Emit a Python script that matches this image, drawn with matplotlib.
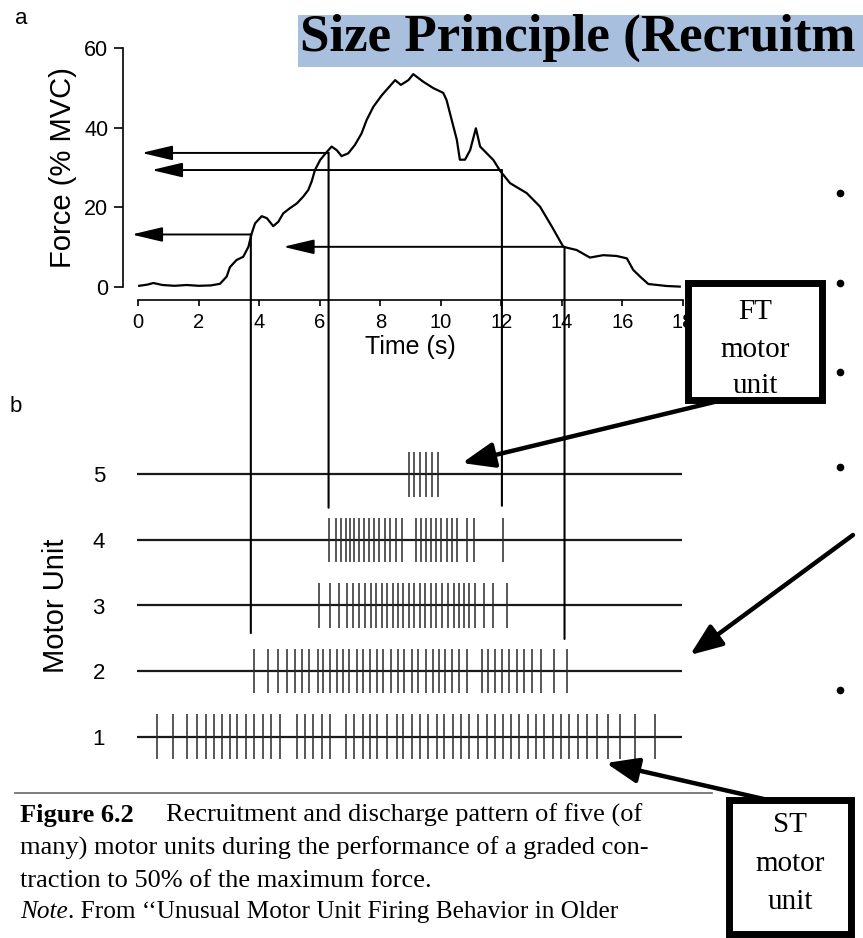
import matplotlib
matplotlib.use("Agg")
import matplotlib.pyplot as plt
from matplotlib.patches import Rectangle, FancyArrowPatch, ConnectionPatch
from matplotlib.lines import Line2D

plt.rcParams['font.family'] = ['Liberation Sans', 'DejaVu Sans']

# ---------------- data ----------------
force_time = [0.03, 0.3, 0.5, 0.8, 1.2, 1.6, 2.0, 2.4, 2.7, 2.92, 3.03, 3.25, 3.47, 3.64,
              3.75, 3.86, 4.08, 4.25, 4.46, 4.63, 4.79, 5.01, 5.24, 5.45, 5.62, 5.73,
              5.84, 6.01, 6.17, 6.39, 6.56, 6.72, 6.94, 7.16, 7.38, 7.55, 7.77, 8.05,
              8.49, 8.68, 8.93, 9.09, 9.42, 9.75, 10.08, 10.19, 10.36, 10.53, 10.63,
              10.80, 10.97, 11.16, 11.30, 11.52, 11.74, 11.96, 12.29, 12.84, 13.28,
              13.67, 14.05, 14.49, 14.93, 15.37, 15.81, 16.15, 16.36, 16.59, 16.86,
              17.47, 17.9]
force_value = [0.3, 0.6, 1.0, 0.5, 0.3, 0.5, 0.3, 0.4, 0.8, 2.6, 5.0, 6.8, 7.6, 10.1,
               13.5, 16.0, 17.8, 17.3, 15.3, 16.4, 18.5, 19.8, 21.0, 22.7, 24.4, 26.5,
               29.4, 31.9, 33.4, 35.3, 34.4, 32.9, 33.6, 35.7, 38.6, 42.0, 45.3, 48.2,
               52.0, 50.8, 52.0, 53.5, 51.6, 50.0, 48.8, 47.0, 42.0, 37.0, 32.0,
               32.0, 34.4, 39.9, 35.3, 33.6, 31.9, 29.2, 26.1, 23.6, 20.2,
               15.2, 10.1, 9.3, 7.4, 8.0, 7.8, 7.2, 4.3, 2.6, 0.75,
               0.25, 0.1]

unit_labels = ["1", "2", "3", "4", "5"]
spikes_unit1 = [0.61, 1.14, 1.60, 1.95, 2.23, 2.50, 2.76, 3.03, 3.27, 3.56, 3.83, 4.11,
                4.39, 4.68, 5.24, 5.51, 5.79, 6.06, 6.34, 6.87, 7.14, 7.42, 7.66, 7.90,
                8.21, 8.54, 8.76, 9.04, 9.31, 9.59, 9.86, 10.12, 10.39, 10.67, 10.93,
                11.24, 11.52, 11.79, 12.07, 12.31, 12.60, 12.87, 13.15, 13.42, 13.70,
                13.97, 14.25, 14.53, 14.82, 15.15, 15.54, 15.92, 16.42, 17.08]
spikes_unit2 = [3.82, 4.28, 4.63, 4.91, 5.18, 5.42, 5.65, 5.93, 6.12, 6.34, 6.56, 6.78,
                6.97, 7.22, 7.44, 7.66, 7.88, 8.10, 8.35, 8.58, 8.79, 9.04, 9.26, 9.51,
                9.73, 9.94, 10.14, 10.38, 10.61, 10.88, 11.35, 11.57, 11.79, 12.01,
                12.25, 12.51, 12.75, 13.00, 13.30, 13.74, 14.16]
spikes_unit3 = [5.98, 6.34, 6.63, 6.89, 7.11, 7.31, 7.49, 7.68, 7.86, 8.05, 8.23, 8.41,
                8.59, 8.76, 8.95, 9.12, 9.31, 9.49, 9.67, 9.84, 10.05, 10.25, 10.45,
                10.61, 10.78, 10.94, 11.13, 11.43, 11.74, 12.18]
spikes_unit4 = [6.30, 6.54, 6.70, 6.86, 7.00, 7.14, 7.30, 7.46, 7.63, 7.80, 7.97, 8.15,
                8.32, 8.51, 8.71, 9.18, 9.34, 9.51, 9.68, 9.84, 10.01, 10.20, 10.36,
                10.54, 10.86, 11.10, 12.05]
spikes_unit5 = [8.95, 9.12, 9.31, 9.50, 9.70, 9.90]

# recruitment / derecruitment markers
marker_time = [3.72, 6.29, 12.02, 14.09]
marker_force = [13.2, 33.7, 29.4, 10.1]
marker_arrow_tip = [-0.22, 0.11, 0.44, 4.79]
marker_unit_end = [2.58, 4.49, 4.52, 2.49]

y_ticks = [0, 20, 40, 60]
x_ticks = [0, 2, 4, 6, 8, 10, 12, 14, 16, 18]

title_text = "Size Principle (Recruitm"
caption_lines = ["Recruitment and discharge pattern of five (of",
                 "many) motor units during the performance of a graded con-",
                 "traction to 50% of the maximum force."]
note_text = "From \u2018\u2018Unusual Motor Unit Firing Behavior in Older"

# ---------------- figure ----------------
W, H = 863, 938
fig = plt.figure(figsize=(W / 100, H / 100), dpi=100)
fig.patch.set_facecolor("white")


def fx(x):
    return x / W


def fy(y):
    return 1 - y / H


# top axes (force)
x0, x18 = 138.3, 138.3 + 18 * 30.25
ax1 = fig.add_axes([fx(x0), fy(287), (x18 - x0) / W, (287 - 48.3) / H])
ax1.plot(force_time, force_value, color="black", lw=1.6, clip_on=False, zorder=3)
ax1.set_xlim(0, 18)
ax1.set_ylim(0, 60)
for s in ["top", "right"]:
    ax1.spines[s].set_visible(False)
ax1.spines["left"].set_position(("outward", 11))
ax1.spines["bottom"].set_position(("outward", 9.5))
ax1.spines["left"].set_bounds(0, 60)
ax1.spines["bottom"].set_bounds(0, 18)
for s in ["left", "bottom"]:
    ax1.spines[s].set_linewidth(1.2)
ax1.set_yticks(y_ticks)
ax1.set_xticks(x_ticks)
ax1.set_xticklabels([str(v) for v in x_ticks])
ax1.tick_params(axis="y", length=6.5, width=1.2, labelsize=15.5, pad=4, colors="black")
ax1.tick_params(axis="x", length=4.5, width=1.2, labelsize=14.5, pad=5, colors="black")
ax1.set_ylabel("Force (% MVC)", fontsize=21, labelpad=5)
ax1.set_xlabel("Time (s)", fontsize=18, labelpad=2)
ax1.patch.set_alpha(0)

for t, f, tip in zip(marker_time, marker_force, marker_arrow_tip):
    ax1.annotate("", xy=(tip, f), xytext=(t, f),
                 arrowprops=dict(arrowstyle="-|>,head_length=1.35,head_width=0.32",
                                 lw=1.4, color="black", mutation_scale=14,
                                 shrinkA=0, shrinkB=0),
                 annotation_clip=False)

# raster axes
ax2 = fig.add_axes([fx(x0), fy(769.5), (x18 - x0) / W, 328 / H])
ax2.set_xlim(0, 18)
ax2.set_ylim(0.5, 5.5)
for s in ax2.spines.values():
    s.set_visible(False)
ax2.set_xticks([])
ax2.set_yticks([1, 2, 3, 4, 5])
ax2.set_yticklabels(unit_labels)
ax2.tick_params(axis="y", length=0, labelsize=16, pad=24)
ax2.set_ylabel("Motor Unit", fontsize=21, labelpad=16)
ax2.patch.set_alpha(0)

all_spikes = [spikes_unit1, spikes_unit2, spikes_unit3, spikes_unit4, spikes_unit5]
for row, sp in enumerate(all_spikes, start=1):
    ax2.hlines(row, -0.05, 17.98, color="#1a1a1a", lw=1.6, clip_on=False)
    ax2.vlines(sp, row - 0.34, row + 0.34, color="#2a2a2a", lw=1.1)

# vertical guide lines linking force trace to raster
for t, f, yend in zip(marker_time, marker_force, marker_unit_end):
    con = ConnectionPatch(xyA=(t, f), coordsA=ax1.transData,
                          xyB=(t, yend), coordsB=ax2.transData,
                          color="black", lw=1.5)
    fig.add_artist(con)

# panel letters
fig.text(fx(21), fy(19), "a", fontsize=16, ha="center", va="center")
fig.text(fx(16), fy(407), "b", fontsize=16, ha="center", va="center")

# title bar
fig.add_artist(Rectangle((fx(297.5), fy(67)), 1 - fx(297.5), (67 - 15) / H,
                         transform=fig.transFigure, facecolor="#a8bfdd",
                         edgecolor="none", zorder=1))
fig.text(fx(300), fy(51), title_text, fontsize=38.2, fontweight="bold",
         family="Liberation Serif", ha="left", va="baseline", zorder=2)

# bullets on right
for by in [193, 283, 372, 467, 690, 862]:
    fig.add_artist(Line2D([fx(840)], [fy(by)], marker="o", ms=4.5, color="black",
                          transform=fig.transFigure, zorder=1))


# label boxes
def label_box(x_left, y_top, x_right, y_bottom, lines, ys):
    fig.add_artist(Rectangle((fx(x_left), fy(y_bottom)), (x_right - x_left) / W,
                             (y_bottom - y_top) / H, transform=fig.transFigure,
                             facecolor="white", edgecolor="black", lw=5, zorder=10))
    cx = (x_left + x_right) / 2
    for txt, yy in zip(lines, ys):
        fig.text(fx(cx), fy(yy), txt, fontsize=21, family="Liberation Serif",
                 ha="center", va="center", zorder=11)


label_box(688, 283, 822, 400, ["FT", "motor", "unit"], [312, 350, 386])
label_box(729, 800, 851, 934, ["ST", "motor", "unit"], [825, 864, 902])


def thick_arrow(xs, ys, xe, ye):
    a = FancyArrowPatch((fx(xs), fy(ys)), (fx(xe), fy(ye)), transform=fig.transFigure,
                        arrowstyle="-|>,head_length=1.4,head_width=0.55",
                        mutation_scale=14, lw=3.2, color="black",
                        shrinkA=0, shrinkB=0, zorder=9)
    fig.add_artist(a)


thick_arrow(735, 397, 462, 463)
thick_arrow(853, 535, 690, 655)
thick_arrow(768, 800, 606, 763)

# caption
fig.add_artist(Line2D([fx(15), fx(712)], [fy(793), fy(793)], color="#666666", lw=1.2,
                      transform=fig.transFigure))
cap_fs = 19
fig.text(fx(20), fy(822), "Figure 6.2", fontsize=cap_fs, fontweight="bold",
         family="Liberation Serif", ha="left", va="baseline")
fig.text(fx(20 + 146), fy(822), caption_lines[0], fontsize=cap_fs,
         family="Liberation Serif", ha="left", va="baseline")
fig.text(fx(20), fy(855), caption_lines[1], fontsize=cap_fs,
         family="Liberation Serif", ha="left", va="baseline")
fig.text(fx(20), fy(887), caption_lines[2], fontsize=cap_fs,
         family="Liberation Serif", ha="left", va="baseline")
fig.text(fx(20), fy(918), "Note", fontsize=18.2, style="italic",
         family="Liberation Serif", ha="left", va="baseline")
fig.text(fx(20 + 48), fy(918), ". " + note_text, fontsize=18.2,
         family="Liberation Serif", ha="left", va="baseline")

fig.savefig("out.png", dpi=100)
